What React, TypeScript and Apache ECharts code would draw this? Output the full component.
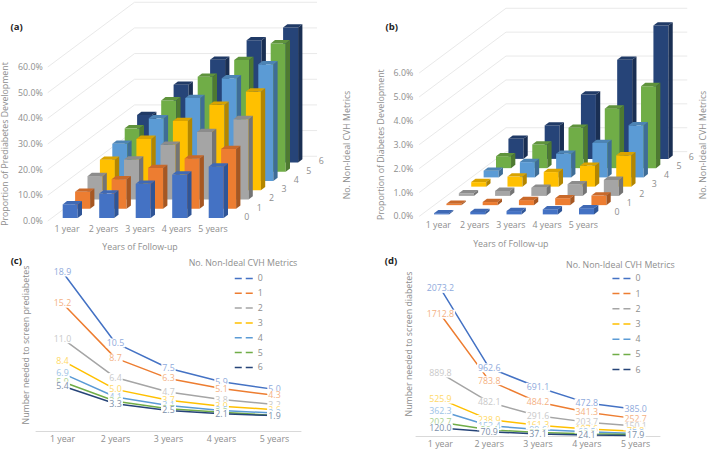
import React, { useEffect, useRef } from "react";
import * as echarts from "echarts";

const years = ["1 year", "2 years", "3 years", "4 years", "5 years"];
const metrics = ["0", "1", "2", "3", "4", "5", "6"];

// Panel (a): proportion of prediabetes development, %, by number of non-ideal metrics
const pre0 = [5.3, 9.5, 13.3, 16.9, 20.0];
const pre1 = [6.6, 11.5, 15.9, 19.6, 23.3];
const pre2 = [9.1, 15.6, 21.3, 26.3, 31.3];
const pre3 = [11.9, 20.0, 27.0, 33.3, 38.5];
const pre4 = [14.5, 24.4, 32.3, 40.0, 45.5];
const pre5 = [16.9, 27.8, 37.0, 43.5, 50.0];
const pre6 = [18.5, 30.3, 40.0, 47.6, 52.6];
const preRows = [pre0, pre1, pre2, pre3, pre4, pre5, pre6];

// Panel (b): proportion of diabetes development, %
const dia0 = [0.05, 0.1, 0.14, 0.21, 0.26];
const dia1 = [0.06, 0.13, 0.21, 0.29, 0.4];
const dia2 = [0.11, 0.21, 0.34, 0.49, 0.67];
const dia3 = [0.19, 0.42, 0.61, 0.87, 1.31];
const dia4 = [0.28, 0.64, 0.99, 1.44, 2.18];
const dia5 = [0.5, 0.99, 1.69, 2.49, 3.43];
const dia6 = [0.84, 1.4, 2.69, 4.15, 5.58];
const diaRows = [dia0, dia1, dia2, dia3, dia4, dia5, dia6];

// Panel (c): number needed to screen prediabetes
const nnsPre0 = [18.9, 10.5, 7.5, 5.9, 5.0];
const nnsPre1 = [15.2, 8.7, 6.3, 5.1, 4.3];
const nnsPre2 = [11.0, 6.4, 4.7, 3.8, 3.2];
const nnsPre3 = [8.4, 5.0, 3.7, 3.0, 2.6];
const nnsPre4 = [6.9, 4.1, 3.1, 2.5, 2.2];
const nnsPre5 = [5.9, 3.6, 2.7, 2.3, 1.9];
const nnsPre6 = [5.4, 3.3, 2.5, 2.1, 1.9];
const nnsPreRows = [nnsPre0, nnsPre1, nnsPre2, nnsPre3, nnsPre4, nnsPre5, nnsPre6];

// Panel (d): number needed to screen diabetes
const nnsDia0 = [2073.2, 962.6, 691.1, 472.8, 385.0];
const nnsDia1 = [1712.8, 783.8, 484.2, 341.3, 252.7];
const nnsDia2 = [889.8, 482.1, 291.6, 203.7, 150.1];
const nnsDia3 = [525.9, 238.9, 161.3, 107.6, 76.8];
const nnsDia4 = [362.3, 153.4, 99.6, 69.5, 45.9];
const nnsDia5 = [202.7, 96.4, 58.3, 40.2, 29.1];
const nnsDia6 = [120.0, 70.9, 37.1, 24.1, 17.9];
const nnsDiaRows = [nnsDia0, nnsDia1, nnsDia2, nnsDia3, nnsDia4, nnsDia5, nnsDia6];

const colors = ["#4472C4", "#ED7D31", "#A5A5A5", "#FFC000", "#5B9BD5", "#70AD47", "#264478"];
const topColors = ["#3F69B5", "#C9692A", "#8C8C8C", "#D9A300", "#4D84B5", "#5F933C", "#203A66"];
const sideColors = ["#2F5597", "#A65722", "#747474", "#B38600", "#3F6D96", "#4E7A31", "#1A2F53"];
const labelColors = ["#8FAADC", "#F4B183", "#C9C9C9", "#FFD966", "#9DC3E6", "#A9D18E", "#7C8FA9"];

const FONT = "'Open Sans', sans-serif";
const GREY = "#8E8E8E";
const WALL = "#E9E9E9";
const FS = 8.8;

const DEPTH_DX = 12.4;
const DEPTH_DY = 9.25;
const BAR_W = 15;
const SIDE_DX = 4.3;
const SIDE_DY = 3.3;

function wallSeries(idx: number, ticks: number[]) {
  return {
    type: "custom",
    name: "wall" + idx,
    xAxisIndex: idx,
    yAxisIndex: idx,
    silent: true,
    z: 1,
    data: ticks.map((t) => [0, t]),
    encode: { x: 0, y: 1 },
    renderItem: (_p: any, api: any) => {
      const band = api.size([1, 0])[0];
      const [cx, y] = api.coord([api.value(0), api.value(1)]);
      const left = cx - band / 2 - 1;
      const bx = left + DEPTH_DX * 7;
      const by = y - DEPTH_DY * 7;
      return {
        type: "polyline",
        shape: { points: [[left, y], [bx, by], [bx + band * 5, by]] },
        style: { stroke: WALL, lineWidth: 1, fill: "none" },
      };
    },
  };
}

function barSeries(idx: number, depth: number, row: number[], baseLift: number) {
  return {
    type: "custom",
    name: "bars" + idx + "-" + depth,
    xAxisIndex: idx,
    yAxisIndex: idx,
    silent: true,
    z: 2 + (6 - depth),
    data: row.map((v, i) => [i, v]),
    encode: { x: 0, y: 1 },
    renderItem: (_p: any, api: any) => {
      const top = api.coord([api.value(0), api.value(1)]);
      const base = api.coord([api.value(0), 0]);
      const x0 = top[0] - 4.3 + depth * DEPTH_DX;
      const lift = baseLift + depth * DEPTH_DY;
      const y1 = base[1] - lift;
      const y0 = top[1] - lift;
      const x1 = x0 + BAR_W;
      return {
        type: "group",
        children: [
          { type: "polygon", shape: { points: [[x0, y0], [x1, y0], [x1, y1], [x0, y1]] }, style: { fill: colors[depth] } },
          { type: "polygon", shape: { points: [[x0, y0], [x1, y0], [x1 + SIDE_DX, y0 - SIDE_DY], [x0 + SIDE_DX, y0 - SIDE_DY]] }, style: { fill: topColors[depth] } },
          { type: "polygon", shape: { points: [[x1, y0], [x1 + SIDE_DX, y0 - SIDE_DY], [x1 + SIDE_DX, y1 - SIDE_DY], [x1, y1]] }, style: { fill: sideColors[depth] } },
        ],
      };
    },
  };
}

function depthLabelSeries(idx: number) {
  return {
    type: "custom",
    name: "depth" + idx,
    xAxisIndex: idx,
    yAxisIndex: idx,
    silent: true,
    z: 1,
    data: metrics.map((m, i) => [4, 0, i]),
    encode: { x: 0, y: 1 },
    renderItem: (_p: any, api: any) => {
      const band = api.size([1, 0])[0];
      const [cx, y] = api.coord([api.value(0), api.value(1)]);
      const d = api.value(2);
      return {
        type: "text",
        x: cx + band / 2 + 15.5 + d * DEPTH_DX,
        y: y - 4.2 - d * DEPTH_DY,
        style: { text: metrics[d], fill: GREY, font: FS + "px " + FONT, align: "center", verticalAlign: "middle" },
      };
    },
  };
}

function lineSeries(idx: number, rows: number[][], digits: number) {
  return rows.map((row, i) => ({
    type: "line",
    name: metrics[i],
    xAxisIndex: idx,
    yAxisIndex: idx,
    data: row,
    symbol: "circle",
    symbolSize: 0.5,
    showSymbol: true,
    showAllSymbol: true,
    silent: true,
    itemStyle: { color: colors[i] },
    lineStyle: { color: colors[i], width: 1.5 },
    labelLayout: { hideOverlap: false },
    label: {
      show: true,
      position: "inside",
      formatter: (p: any) => Number(p.value).toFixed(digits),
      color: labelColors[i],
      fontFamily: FONT,
      fontSize: FS,
      backgroundColor: "#fff",
      padding: [0, 1],
    },
  }));
}

const rotatedText = (text: string, x: number, y: number) => ({
  type: "text",
  x,
  y,
  rotation: Math.PI / 2,
  style: { text, fill: GREY, font: FS + "px " + FONT, align: "center", verticalAlign: "middle" },
});
const plainText = (text: string, x: number, y: number, bold = false) => ({
  type: "text",
  x,
  y,
  style: {
    text,
    fill: bold ? "#222" : GREY,
    font: (bold ? "bold 9.5px " : FS + "px ") + FONT,
    align: "center",
    verticalAlign: "middle",
  },
});

const legendFor = (left: number, top: number, gap: number) => ({
  show: true,
  orient: "vertical",
  left,
  top,
  padding: 0,
  itemWidth: 18,
  itemHeight: 14,
  itemGap: gap,
  selectedMode: false,
  data: metrics,
  itemStyle: { opacity: 0 },
  lineStyle: { type: [7, 4], width: 1.5 },
  textStyle: { color: GREY, fontFamily: FONT, fontSize: FS },
});

const xAxisBase = (gridIndex: number, margin: number) => ({
  type: "category",
  gridIndex,
  data: years,
  axisTick: { show: false },
  axisLabel: { color: GREY, fontFamily: FONT, fontSize: FS, margin, interval: 0 },
  nameTextStyle: { color: GREY, fontFamily: FONT, fontSize: FS },
});

const pct3dAxis = (gridIndex: number, max: number, interval: number, name: string, gap: number, margin: number) => ({
  type: "value",
  gridIndex,
  min: 0,
  max,
  interval,
  name,
  nameLocation: "middle",
  nameGap: gap,
  nameTextStyle: { color: GREY, fontFamily: FONT, fontSize: FS },
  axisLine: { show: false },
  axisTick: { show: false },
  splitLine: { show: false },
  axisLabel: { color: GREY, fontFamily: FONT, fontSize: FS, margin, formatter: (v: number) => v.toFixed(1) + "%" },
});

const hiddenY = (gridIndex: number, max: number) => ({
  type: "value",
  gridIndex,
  min: 0,
  max,
  show: false,
  splitLine: { show: false },
});

export default function App() {
  const ref = useRef<HTMLDivElement>(null);
  useEffect(() => {
    if (!ref.current) return;
    const chart = echarts.init(ref.current, undefined, { renderer: "svg" });
    chart.setOption({
      animation: false,
      backgroundColor: "#fff",
      textStyle: { fontFamily: FONT },
      legend: [legendFor(234, 272.8, 3.63), legendFor(611.7, 272.8, 4)],
      grid: [
        { left: 48.75, width: 182.5, top: 67, height: 154, outerBoundsMode: "none" },
        { left: 420.2, width: 181.25, top: 73, height: 143.4, outerBoundsMode: "none" },
        { left: 36, width: 265, top: 262.7, height: 168.9, outerBoundsMode: "none" },
        { left: 416, width: 244, top: 286.5, height: 150.2, outerBoundsMode: "none" },
      ],
      xAxis: [
        { ...xAxisBase(0, 3), axisLine: { show: false }, name: "Years of Follow-up", nameLocation: "middle", nameGap: 21 },
        { ...xAxisBase(1, 4), axisLine: { show: false }, name: "Years of Follow-up", nameLocation: "middle", nameGap: 23 },
        { ...xAxisBase(2, 3), axisLine: { lineStyle: { color: "#D9D9D9" } } },
        { ...xAxisBase(3, 3), axisLine: { lineStyle: { color: "#D9D9D9" } } },
      ],
      yAxis: [
        pct3dAxis(0, 60, 10, "Proportion of Prediabetes Development", 39, 6),
        pct3dAxis(1, 6, 1, "Proportion of Diabetes Development", 35, 7),
        hiddenY(2, 20),
        hiddenY(3, 2100),
      ],
      series: [
        wallSeries(0, [0, 10, 20, 30, 40, 50, 60]),
        wallSeries(1, [0, 1, 2, 3, 4, 5, 6]),
        depthLabelSeries(0),
        depthLabelSeries(1),
        ...preRows.map((row, d) => barSeries(0, d, row, 3)),
        ...diaRows.map((row, d) => barSeries(1, d, row, 2)),
        ...lineSeries(2, nnsPreRows, 1),
        ...lineSeries(3, nnsDiaRows, 1),
      ],
      graphic: {
        elements: [
          plainText("(a)", 16.7, 26.7, true),
          plainText("(b)", 391.7, 26.7, true),
          plainText("(c)", 16.3, 260, true),
          plainText("(d)", 391, 260, true),
          rotatedText("No. Non-Ideal CVH Metrics", 346.7, 145),
          rotatedText("No. Non-Ideal CVH Metrics", 703.3, 145),
          rotatedText("Number needed to screen prediabetes", 25.7, 345),
          rotatedText("Number needed to screen diabetes", 409, 344),
          plainText("No. Non-Ideal CVH Metrics", 243, 262.7),
          plainText("No. Non-Ideal CVH Metrics", 620.3, 265),
        ],
      },
    });
    return () => chart.dispose();
  }, []);
  return <div ref={ref} style={{ position: "absolute", left: 0, top: 0, width: 709, height: 452 }} />;
}
